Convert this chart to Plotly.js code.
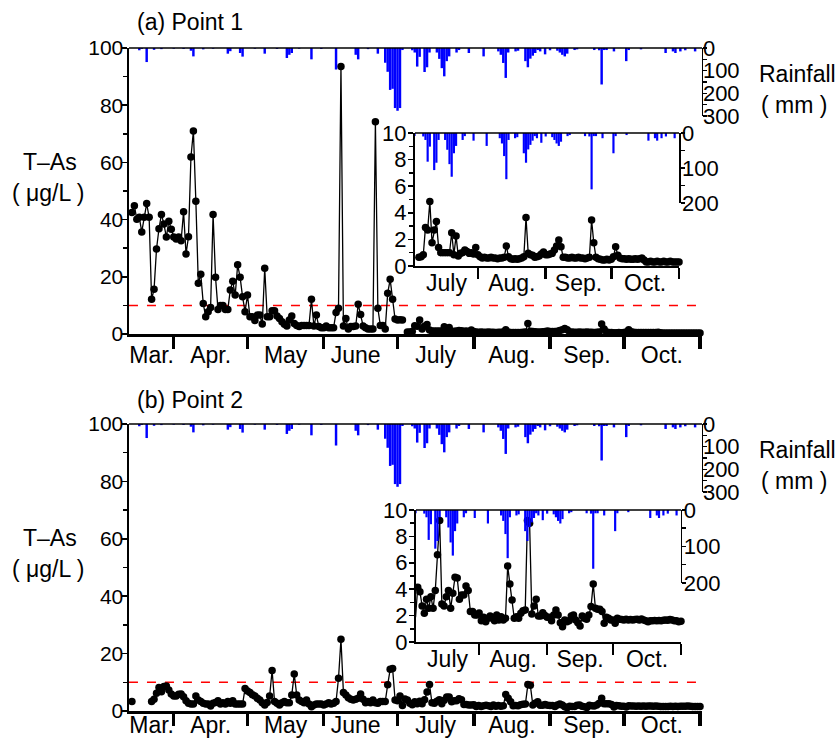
<!DOCTYPE html>
<html>
<head>
<meta charset="utf-8">
<script src="https://cdn.plot.ly/plotly-3.0.1.min.js"></script>
<style>html,body{margin:0;padding:0;background:#fff;}#chart{width:838px;height:742px;}</style>
</head>
<body>
<div id="chart"></div>
<script>
// ---------- data (day index: 0 = 1 March) ----------
const monthBounds = [31, 61, 92, 122, 153, 184, 214, 245];
const mainMonthMid = [22, 46, 76.5, 105, 137.5, 168.5, 199, 229.5];
const mainMonthLabels = ['Mar.', 'Apr.', 'May', 'June', 'July', 'Aug.', 'Sep.', 'Oct.'];
const insetMonthBounds = [153, 184, 214, 245];
const insetMonthMid = [138.6, 168.5, 199, 229.5];
const insetMonthLabels = ['July', 'Aug.', 'Sep.', 'Oct.'];

// Point 1, T-As (ug/L), daily from day 14 to 124, then from 126 to 245
const p1SpringStart = 14;
const p1Spring = [42.5,44.8,40.1,40.8,35.7,40.8,45.6,40.8,12.1,15.6,
  29.7,36.8,41.8,38.5,33.9,39.4,36.6,33.9,33.2,33.9,
  32.6,42.7,28.0,34.0,61.9,71.0,46.4,17.7,20.9,10.7,
  6.0,7.8,9.3,41.8,19.8,8.6,10.0,10.0,8.6,8.6,
  15.4,18.4,13.6,24.2,19.8,13.0,7.8,13.6,6.0,6.0,
  4.7,6.6,6.6,3.5,23.0,6.0,6.0,8.1,8.1,6.3,
  5.4,4.3,3.4,2.8,4.9,6.3,3.7,3.0,2.6,3.0,
  3.0,3.0,3.0,12.1,2.8,6.6,2.6,2.2,2.2,2.8,
  2.2,2.2,2.2,7.5,9.0,93.5,2.8,5.4,1.7,2.6,
  2.6,2.8,10.4,6.8,2.8,2.2,1.7,1.7,1.7,74.2,
  9.0,3.0,3.0,1.7,14.2,19.1,12.1,5.2,4.9,5.0,4.9];
const p1SummerStart = 126;
const p1Summer = [0.65,0.7,0.85,2.9,2.7,4.85,1.75,2.7,3.35,1.4,
  1.0,1.0,1.0,1.0,1.0,2.5,0.85,2.25,0.75,0.95,
  1.0,1.2,1.1,0.95,1.0,0.9,1.4,0.85,0.7,0.6,
  0.65,0.6,0.6,0.65,0.6,0.6,0.55,0.6,0.6,0.65,
  1.5,0.7,0.55,0.5,0.55,0.5,0.55,0.6,0.7,3.65,
  0.95,0.85,0.8,0.65,0.7,0.75,0.9,1.05,0.85,0.85,
  0.9,0.95,1.2,1.5,1.95,1.45,0.65,0.65,0.6,0.6,
  0.65,0.6,0.6,0.65,0.6,0.6,0.55,0.6,0.65,3.45,
  1.75,0.65,0.55,0.5,0.45,0.45,0.5,0.45,0.5,0.7,
  1.45,0.8,0.6,0.55,0.55,0.5,0.55,0.5,0.5,0.55,
  0.5,0.55,0.6,0.45,0.3,0.3,0.35,0.3,0.3,0.35,
  0.3,0.3,0.35,0.3,0.3,0.35,0.3,0.3,0.3,0.3];

// Point 2, T-As (ug/L)
const p2FirstDay = [14];
const p2First = [3.3];
const p2SpringStart = 22;
const p2Spring = [3.3,4.1,6.2,8.2,6.7,8.5,8.7,7.3,5.9,5.2,
  5.2,5.8,5.9,5.0,3.6,2.7,2.4,2.4,5.2,3.8,
  3.3,2.7,2.4,2.4,1.7,2.7,3.0,3.6,2.4,2.9,
  2.4,3.3,2.7,3.6,2.4,2.4,2.4,2.4,7.8,7.0,
  6.4,5.7,5.2,4.4,3.8,2.9,2.1,3.0,5.2,14.1,
  3.3,2.7,2.1,2.9,3.3,2.9,2.9,5.6,12.9,5.6,
  3.8,3.3,2.9,3.8,2.4,1.5,2.1,2.4,2.4,2.4,
  2.1,2.4,2.9,2.4,2.7,3.3,11.4,25.0,6.4,5.6,
  4.6,4.1,3.8,4.1,4.4,5.9,4.1,2.9,3.3,2.9,
  3.8,2.9,2.7,3.3,3.3,3.3,9.1,14.5,14.8,3.8,
  3.6,5.2];
const p2SummerStart = 124;
const p2Summer = [1.87,4.14,3.8,2.73,2.17,3.23,2.55,3.43,2.55,3.9,
  6.6,9.2,2.88,2.73,3.43,3.9,2.55,3.7,4.9,4.85,
  3.23,3.56,3.56,4.24,3.9,2.3,2.3,2.05,2.05,2.2,
  1.6,1.87,1.54,1.8,1.97,1.8,1.6,2.05,1.67,1.92,
  1.67,1.8,5.76,4.4,3.18,1.8,1.92,1.8,2.17,2.37,
  2.42,9.2,9.0,2.12,2.73,3.23,1.97,1.97,2.22,2.0,
  1.87,1.87,1.6,2.05,2.42,2.05,1.46,1.16,1.67,1.54,
  1.6,1.97,2.05,1.67,1.46,1.21,1.97,1.8,1.72,2.05,
  2.68,4.4,2.55,2.48,2.48,2.3,1.41,1.87,1.8,1.67,
  1.67,1.41,1.8,1.72,1.7,1.67,1.72,1.67,1.7,1.67,
  1.7,1.72,1.67,1.75,1.67,1.6,1.54,1.6,1.6,1.62,
  1.6,1.62,1.6,1.65,1.67,1.65,1.7,1.67,1.6,1.6,
  1.54,1.57];

// Daily rainfall (mm)
const rainDays = [17,18,20,23,26,31,35,38,39,43,47,53,54,58,59,64,68,73,77,78,79,82,87,91,97,
  105,106,110,114,117,118,119,120,121,122,123,124,128,129,130,131,133,134,135,138,139,140,141,142,143,
  146,147,151,157,163,164,165,166,167,170,171,174,175,176,177,178,179,180,182,184,187,188,189,190,191,
  194,195,202,204,205,206,207,210,215,216,221,231,234,235,237,239,243];
const rainMm = [10,4,62,8,5,3,4,12,37,6,3,25,14,22,38,3,25,4,44,30,22,3,50,4,95,
  30,50,5,25,65,105,185,180,265,277,265,9,10,20,82,39,106,85,20,20,48,89,125,58,37,
  20,9,22,37,15,30,66,132,20,15,12,58,85,47,34,22,9,15,28,10,12,20,30,37,25,
  9,6,9,10,161,9,9,15,58,9,6,22,15,22,15,10,15];

// ---------- build series ----------
function seq(start, vals) { return vals.map((v, i) => start + i); }
const p1x = seq(p1SpringStart, p1Spring).concat([null], seq(p1SummerStart, p1Summer));
const p1y = p1Spring.concat([null], p1Summer);
const p2x = p2FirstDay.concat([null], seq(p2SpringStart, p2Spring), seq(p2SummerStart, p2Summer));
const p2y = p2First.concat([null], p2Spring, p2Summer);

const FONT = 'Liberation Sans, Arial, Helvetica, sans-serif';
const BLUE = 'rgb(0,0,255)';

function asTrace(x, y, xa, ya, size) {
  return {type: 'scatter', mode: 'lines+markers', x: x, y: y, xaxis: xa, yaxis: ya,
    line: {color: 'black', width: 1.3}, marker: {color: 'black', size: size},
    connectgaps: false, cliponaxis: false, hoverinfo: 'skip'};
}
function rainTrace(xa, ya) {
  return {type: 'bar', x: rainDays, y: rainMm, xaxis: xa, yaxis: ya,
    marker: {color: BLUE, line: {width: 0}}, width: 1.0, hoverinfo: 'skip'};
}
// empty carrier so that the month-label overlay axes are drawn
function labelCarrier(vals, xa, ya) {
  return {type: 'scatter', mode: 'markers', x: vals, y: vals.map(() => null), xaxis: xa, yaxis: ya,
    hoverinfo: 'skip', showlegend: false};
}

const data = [
  rainTrace('x', 'y2'), asTrace(p1x, p1y, 'x', 'y', 7.5),
  rainTrace('x2', 'y4'), asTrace(p1x, p1y, 'x2', 'y3', 7.5),
  rainTrace('x3', 'y6'), asTrace(p2x, p2y, 'x3', 'y5', 7.5),
  rainTrace('x4', 'y8'), asTrace(p2x, p2y, 'x4', 'y7', 7.5),
  labelCarrier(mainMonthMid, 'x5', 'y'), labelCarrier(insetMonthMid, 'x6', 'y3'),
  labelCarrier(mainMonthMid, 'x7', 'y5'), labelCarrier(insetMonthMid, 'x8', 'y7')
];

const MAIN_XDOM = [0.1539, 0.8377], MAIN_XR = [12.8, 245.8];
const INSET_XR = [124.2, 245];

// month-boundary tick axis (no labels)
function boundsX(anchor, dom, range, vals, len, w, lw) {
  return {domain: dom, range: range, anchor: anchor, tickmode: 'array', tickvals: vals,
    ticks: 'outside', ticklen: len, tickwidth: w, tickcolor: 'black', showticklabels: false,
    showline: true, linewidth: lw, linecolor: 'black', showgrid: false, zeroline: false};
}
// month-label overlay axis (no ticks)
function labelX(over, anchor, dom, range, vals, text, standoff) {
  return {overlaying: over, domain: dom, range: range, anchor: anchor, side: 'bottom', tickmode: 'array',
    tickvals: vals, ticktext: text, ticks: '', showline: false, showgrid: false, zeroline: false,
    ticklabelstandoff: standoff, tickfont: {size: 23, family: FONT, color: 'black'}};
}
function leftY(anchor, dom, range, vals, minorVals, fs, standoff, lw) {
  return {domain: dom, range: range, anchor: anchor, tickmode: 'array', tickvals: vals,
    ticks: 'outside', ticklen: 5, tickwidth: 1.5, tickcolor: 'black',
    minor: {tickmode: 'array', tickvals: minorVals, ticks: 'outside', ticklen: 4, tickwidth: 1.5, tickcolor: 'black'},
    showline: true, linewidth: lw, linecolor: 'black', showgrid: false, zeroline: false,
    ticklabelstandoff: standoff, tickfont: {size: fs, family: FONT, color: 'black'}};
}
function rainY(anchor, dom, range, vals, minorVals, standoff) {
  return {domain: dom, range: range, anchor: anchor, side: 'right', tickmode: 'array', tickvals: vals,
    ticks: 'outside', ticklen: 4, tickwidth: 1.5, tickcolor: 'black',
    minor: {tickmode: 'array', tickvals: minorVals, ticks: 'outside', ticklen: 4, tickwidth: 1.5, tickcolor: 'black'},
    showline: true, linewidth: 1.5, linecolor: 'black', showgrid: false, zeroline: false,
    ticklabelstandoff: standoff, tickfont: {size: 22, family: FONT, color: 'black'}};
}

function topLine(xa, ya) {
  return {type: 'line', xref: xa + ' domain', yref: ya + ' domain', x0: 0, x1: 1, y0: 1, y1: 1,
    line: {color: 'black', width: 1.5}};
}
function guideLine(xa, ya) {
  return {type: 'line', xref: xa + ' domain', yref: ya, x0: 0, x1: 1, y0: 10, y1: 10,
    line: {color: 'red', width: 1.5, dash: 'dash'}, layer: 'below'};
}
function ann(text, x, y, xanchor) {
  return {text: text, x: x, y: y, xref: 'paper', yref: 'paper', xanchor: xanchor, yanchor: 'middle',
    showarrow: false, font: {size: 23, family: FONT, color: 'black'}};
}

const MINOR_MAIN = [10, 30, 50, 70, 90], MINOR_INSET = [1, 3, 5, 7, 9];
const layout = {
  width: 838, height: 742, margin: {l: 0, r: 0, t: 0, b: 0},
  paper_bgcolor: 'white', plot_bgcolor: 'rgba(0,0,0,0)', showlegend: false,
  font: {family: FONT, size: 21, color: 'black'},
  // panel (a)
  xaxis: boundsX('y', MAIN_XDOM, MAIN_XR, monthBounds, 12, 3.5, 3),
  yaxis: leftY('x', [0.5499, 0.9353], [0, 100], [0, 20, 40, 60, 80, 100], MINOR_MAIN, 21, -5, 1.5),
  yaxis2: rainY('x', [0.8437, 0.9353], [300, 0], [0, 100, 200, 300], [50, 150, 250], -9),
  xaxis2: boundsX('y3', [0.4952, 0.8103], INSET_XR, insetMonthBounds, 11, 2.5, 2),
  yaxis3: leftY('x2', [0.6415, 0.8208], [0, 10], [0, 2, 4, 6, 8, 10], MINOR_INSET, 22, -3, 2),
  yaxis4: rainY('x2', [0.7264, 0.8208], [200, 0], [0, 100, 200], [50, 150], -7),
  // panel (b)
  xaxis3: boundsX('y5', MAIN_XDOM, MAIN_XR, monthBounds, 12, 3.5, 3),
  yaxis5: leftY('x3', [0.0418, 0.4286], [0, 100], [0, 20, 40, 60, 80, 100], MINOR_MAIN, 21, -5, 1.5),
  yaxis6: rainY('x3', [0.3369, 0.4286], [300, 0], [0, 100, 200, 300], [50, 150, 250], -9),
  xaxis4: boundsX('y7', [0.4964, 0.8126], INSET_XR, insetMonthBounds, 11, 2.5, 2),
  yaxis7: leftY('x4', [0.1348, 0.3127], [0, 10], [0, 2, 4, 6, 8, 10], MINOR_INSET, 22, -3, 2),
  yaxis8: rainY('x4', [0.2143, 0.3127], [200, 0], [0, 100, 200], [50, 150], -7),
  // month label overlays
  xaxis5: labelX('x', 'y', MAIN_XDOM, MAIN_XR, mainMonthMid, mainMonthLabels, 5),
  xaxis6: labelX('x2', 'y3', [0.4952, 0.8103], INSET_XR, insetMonthMid, insetMonthLabels, 1),
  xaxis7: labelX('x3', 'y5', MAIN_XDOM, MAIN_XR, mainMonthMid, mainMonthLabels, -2),
  xaxis8: labelX('x4', 'y7', [0.4964, 0.8126], INSET_XR, insetMonthMid, insetMonthLabels, 1),
  shapes: [
    topLine('x', 'y'), topLine('x2', 'y3'), topLine('x3', 'y5'), topLine('x4', 'y7'),
    guideLine('x', 'y'), guideLine('x3', 'y5')
  ],
  annotations: [
    ann('(a) Point 1', 135 / 838, 1 - 22 / 742, 'left'),
    ann('T\u2013As', 50 / 838, 1 - 162 / 742, 'center'),
    ann('( \u03bcg/L )', 48 / 838, 1 - 193 / 742, 'center'),
    ann('Rainfall', 757 / 838, 1 - 74 / 742, 'left'),
    ann('( mm )', 759 / 838, 1 - 105 / 742, 'left'),
    ann('(b) Point 2', 135 / 838, 1 - 400 / 742, 'left'),
    ann('T\u2013As', 50 / 838, 1 - 538 / 742, 'center'),
    ann('( \u03bcg/L )', 48 / 838, 1 - 569 / 742, 'center'),
    ann('Rainfall', 757 / 838, 1 - 450 / 742, 'left'),
    ann('( mm )', 759 / 838, 1 - 481 / 742, 'left')
  ]
};

Plotly.newPlot('chart', data, layout, {staticPlot: true, displayModeBar: false});
</script>
</body>
</html>
